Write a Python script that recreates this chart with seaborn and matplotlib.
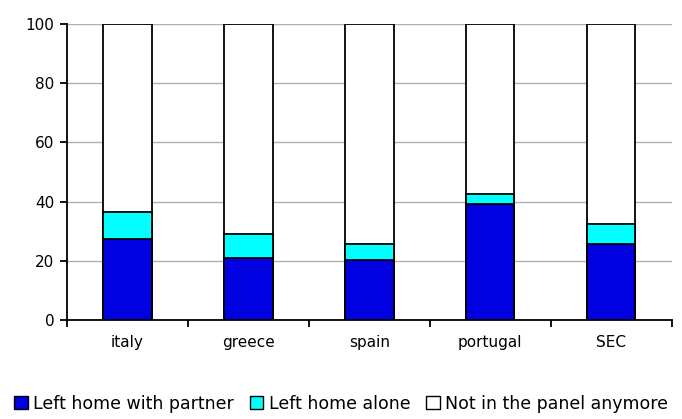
import matplotlib
matplotlib.use("Agg")
import matplotlib.pyplot as plt
import seaborn as sns
import pandas as pd
import numpy as np
from matplotlib.patches import Patch

countries = ["italy", "greece", "spain", "portugal", "SEC"]
with_partner = [27.4, 21.0, 20.3, 39.2, 25.7]
alone = [9.1, 8.1, 5.4, 3.3, 6.6]
not_in_panel = [63.5, 70.9, 74.3, 57.5, 67.7]
series_names = ["Left home with partner", "Left home alone", "Not in the panel anymore"]
yticks = [0, 20, 40, 60, 80, 100]

sns.set_theme(style="white")
plt.rcParams["font.family"] = ["DejaVu Sans"]
plt.rcParams["text.color"] = "black"
plt.rcParams["xtick.color"] = "black"
plt.rcParams["ytick.color"] = "black"

df = pd.DataFrame({
    "country": countries,
    "partner": with_partner,
    "alone": alone,
    "panel": not_in_panel,
})
df["lvl1"] = df["partner"]
df["lvl2"] = df["partner"] + df["alone"]
df["lvl3"] = df["lvl2"] + df["panel"]

fig, ax = plt.subplots(figsize=(6.82, 4.19), dpi=100)
fig.subplots_adjust(left=0.098, right=0.985, top=0.943, bottom=0.236)

colors = ["#0000E0", "#00FFFF", "#FFFFFF"]
for col, c in zip(["lvl3", "lvl2", "lvl1"], colors[::-1]):
    sns.barplot(data=df, x="country", y=col, color=c, width=0.4,
                edgecolor="black", linewidth=1.3, ax=ax, saturation=1)

ax.set_xlim(-0.5, len(countries) - 0.5)
ax.set_ylim(0, 100)
ax.set_yticks(yticks)
ax.set_xlabel("")
ax.set_ylabel("")
ax.yaxis.grid(True, color="#B0B0B0", linewidth=1)
ax.set_axisbelow(True)
for s in ["top", "right"]:
    ax.spines[s].set_visible(False)
for s in ["left", "bottom"]:
    ax.spines[s].set_color("black")
    ax.spines[s].set_linewidth(1.3)

ax.tick_params(axis="y", which="major", direction="out", length=5, width=1.3,
               color="black", labelcolor="black", labelsize=11, left=True, pad=4)
ax.tick_params(axis="x", which="major", length=0, labelsize=11,
               labelcolor="black", pad=11)
ax.set_xticks(np.arange(-0.5, len(countries)), minor=True)
ax.tick_params(axis="x", which="minor", direction="out", length=5, width=1.3,
               color="black", bottom=True)

handles = [Patch(facecolor=c, edgecolor="black", linewidth=1) for c in colors]
fig.legend(handles, series_names, loc="lower center", ncol=3, frameon=False,
           fontsize=12.5, handlelength=0.8, handleheight=0.8, handletextpad=0.3,
           columnspacing=0.9, bbox_to_anchor=(0.5, -0.022), labelcolor="black")

fig.savefig("out.png", dpi=100)
